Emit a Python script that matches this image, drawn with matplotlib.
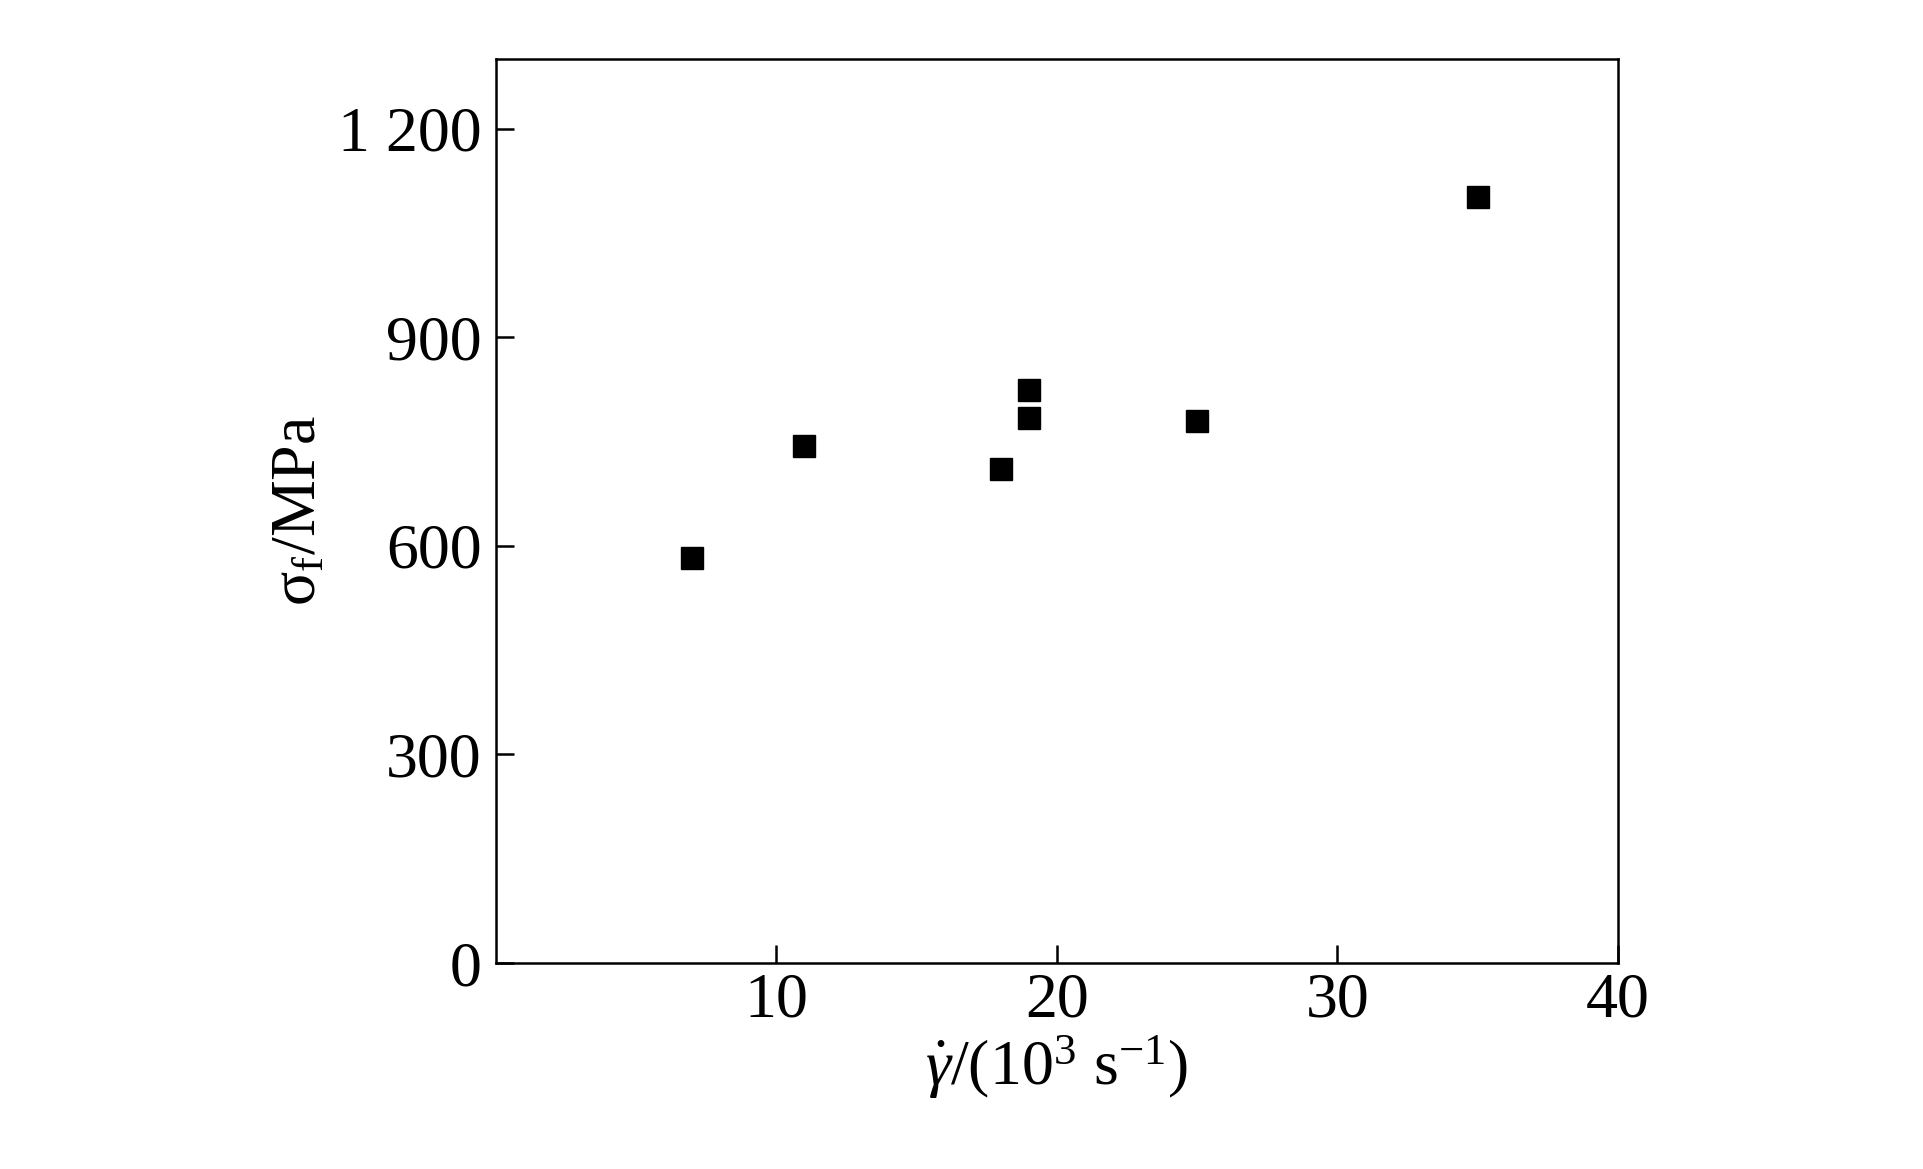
import matplotlib
matplotlib.use("Agg")
import matplotlib.pyplot as plt

# shear strain rate (10^3 s^-1) and flow stress (MPa)
strain_rate = [7, 11, 18, 19, 19, 25, 35]
flow_stress = [583, 744, 710, 824, 784, 780, 1102]

x_ticks = [10, 20, 30, 40]
y_ticks = [0, 300, 600, 900, 1200]
y_tick_labels = ["0", "300", "600", "900", "1 200"]

plt.rcParams['font.family'] = ['Liberation Serif', 'DejaVu Serif']
plt.rcParams['mathtext.fontset'] = 'custom'
plt.rcParams['mathtext.rm'] = 'Liberation Serif'
plt.rcParams['mathtext.it'] = 'Liberation Serif:italic'

fig = plt.figure(figsize=(19.23, 11.69), dpi=100)
ax = fig.add_axes([0.2577, 0.1762, 0.5837, 0.7733])

ax.plot(strain_rate, flow_stress, linestyle='none', marker='s',
        markersize=15.5, color='black')

ax.set_xlim(0, 40)
ax.set_ylim(0, 1300)
ax.set_xticks(x_ticks)
ax.set_yticks(y_ticks)
ax.set_yticklabels(y_tick_labels)

ax.tick_params(direction='in', length=13, width=1.8, labelsize=46)
ax.tick_params(axis='x', pad=7)
ax.tick_params(axis='y', pad=10)
for s in ax.spines.values():
    s.set_linewidth(1.8)

ax.set_xlabel(r'$\dot{\gamma}$/(10$^3$ s$^{-1}$)', fontsize=46, labelpad=2)
ax.set_ylabel(r'σ$_{\rm f}$/MPa', fontsize=46, labelpad=6)

fig.savefig("out.png", dpi=100)
